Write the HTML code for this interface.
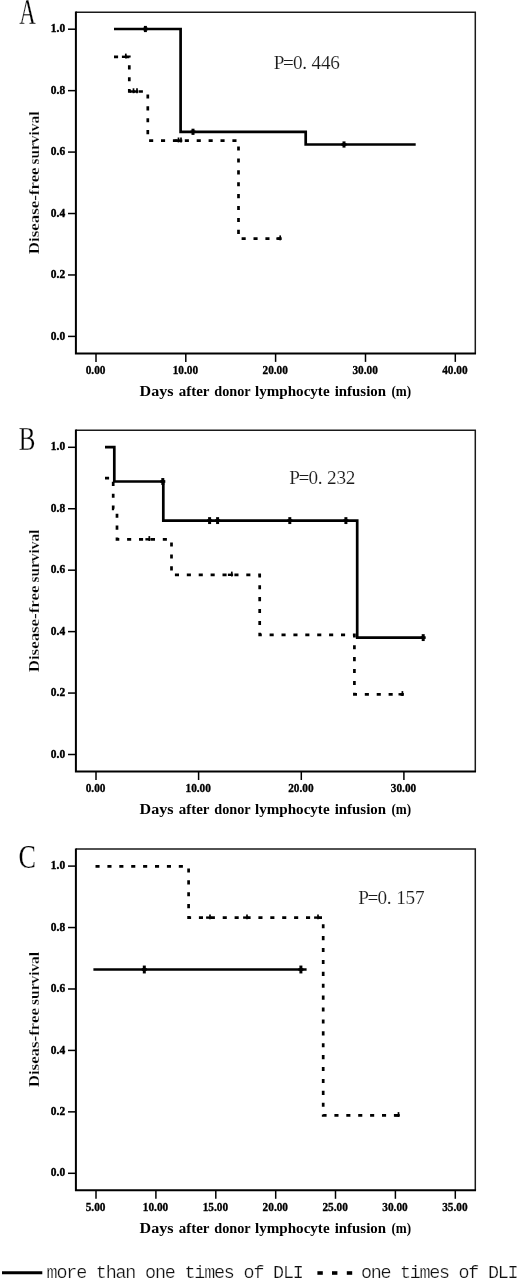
<!DOCTYPE html>
<html lang="en"><head><meta charset="utf-8"><title>Disease-free survival after donor lymphocyte infusion</title>
<style>
html,body{margin:0;padding:0;background:#fff}
body{width:518px;height:1280px;overflow:hidden}
svg{display:block}
svg text{font-family:"Liberation Serif", "Noto Serif CJK SC", serif}
</style></head><body>
<svg width="518" height="1280" viewBox="0 0 518 1280">
<rect width="518" height="1280" fill="#fff"/>
<g>
<path d="M75.9,12.2 H475.3 V353.4" fill="none" stroke="#1a1a1a" stroke-width="1.5"/>
<path d="M75.9,11.5 V353.4 H476.05" fill="none" stroke="#000" stroke-width="2"/>
<line x1="68" x2="75.9" y1="336.4" y2="336.4" stroke="#000" stroke-width="1.5"/>
<text transform="translate(65.1 339.5) scale(1 1.07)" text-anchor="end" font-size="11.4" font-weight="bold" stroke="#000" stroke-width="0.4">0.0</text>
<line x1="68" x2="75.9" y1="274.96" y2="274.96" stroke="#000" stroke-width="1.5"/>
<text transform="translate(65.1 278.06) scale(1 1.07)" text-anchor="end" font-size="11.4" font-weight="bold" stroke="#000" stroke-width="0.4">0.2</text>
<line x1="68" x2="75.9" y1="213.52" y2="213.52" stroke="#000" stroke-width="1.5"/>
<text transform="translate(65.1 216.62) scale(1 1.07)" text-anchor="end" font-size="11.4" font-weight="bold" stroke="#000" stroke-width="0.4">0.4</text>
<line x1="68" x2="75.9" y1="152.08" y2="152.08" stroke="#000" stroke-width="1.5"/>
<text transform="translate(65.1 155.18) scale(1 1.07)" text-anchor="end" font-size="11.4" font-weight="bold" stroke="#000" stroke-width="0.4">0.6</text>
<line x1="68" x2="75.9" y1="90.64" y2="90.64" stroke="#000" stroke-width="1.5"/>
<text transform="translate(65.1 93.74) scale(1 1.07)" text-anchor="end" font-size="11.4" font-weight="bold" stroke="#000" stroke-width="0.4">0.8</text>
<line x1="68" x2="75.9" y1="29.2" y2="29.2" stroke="#000" stroke-width="1.5"/>
<text transform="translate(65.1 32.3) scale(1 1.07)" text-anchor="end" font-size="11.4" font-weight="bold" stroke="#000" stroke-width="0.4">1.0</text>
<line x1="96" x2="96" y1="353.4" y2="361.9" stroke="#000" stroke-width="1.5"/>
<text transform="translate(95.6 373.7) scale(1 1.09)" text-anchor="middle" font-size="11.3" font-weight="bold" stroke="#000" stroke-width="0.3">0.00</text>
<line x1="185.8" x2="185.8" y1="353.4" y2="361.9" stroke="#000" stroke-width="1.5"/>
<text transform="translate(185.4 373.7) scale(1 1.09)" text-anchor="middle" font-size="11.3" font-weight="bold" stroke="#000" stroke-width="0.3">10.00</text>
<line x1="275.6" x2="275.6" y1="353.4" y2="361.9" stroke="#000" stroke-width="1.5"/>
<text transform="translate(275.2 373.7) scale(1 1.09)" text-anchor="middle" font-size="11.3" font-weight="bold" stroke="#000" stroke-width="0.3">20.00</text>
<line x1="365.5" x2="365.5" y1="353.4" y2="361.9" stroke="#000" stroke-width="1.5"/>
<text transform="translate(365.1 373.7) scale(1 1.09)" text-anchor="middle" font-size="11.3" font-weight="bold" stroke="#000" stroke-width="0.3">30.00</text>
<line x1="455.3" x2="455.3" y1="353.4" y2="361.9" stroke="#000" stroke-width="1.5"/>
<text transform="translate(454.9 373.7) scale(1 1.09)" text-anchor="middle" font-size="11.3" font-weight="bold" stroke="#000" stroke-width="0.3">40.00</text>
<text y="395.7" font-size="15.2" font-weight="bold"><tspan x="139.5" textLength="34" lengthAdjust="spacingAndGlyphs">Days</tspan> <tspan x="178.7" textLength="30.5" lengthAdjust="spacingAndGlyphs">after</tspan> <tspan x="214.3" textLength="36.1" lengthAdjust="spacingAndGlyphs">donor</tspan> <tspan x="255" textLength="74.6" lengthAdjust="spacingAndGlyphs">lymphocyte</tspan> <tspan x="334.7" textLength="51.3" lengthAdjust="spacingAndGlyphs">infusion</tspan> <tspan x="391.4" textLength="19.7" lengthAdjust="spacingAndGlyphs">(m)</tspan></text>
<text transform="translate(39.4 253.8) rotate(-90)" font-size="15.4" font-weight="bold" stroke="#fff" stroke-width="0.2"><tspan x="-0.4" textLength="86.8" lengthAdjust="spacingAndGlyphs">Disease-free</tspan> <tspan x="89.3" textLength="53" lengthAdjust="spacingAndGlyphs">survival</tspan></text>
<path d="M114,29 H180.6 V131.8 H305.7 V144.5 H415.7" fill="none" stroke="#000" stroke-width="2.7" stroke-linejoin="miter"/>
<path d="M142.9,29 H147.9" fill="none" stroke="#000" stroke-width="2.6"/><path d="M145.4,25.9 V32.1" fill="none" stroke="#000" stroke-width="3"/>
<path d="M190.5,131.8 H195.5" fill="none" stroke="#000" stroke-width="2.6"/><path d="M193,128.7 V134.9" fill="none" stroke="#000" stroke-width="3"/>
<path d="M341.5,144.5 H346.5" fill="none" stroke="#000" stroke-width="2.6"/><path d="M344,141.4 V147.6" fill="none" stroke="#000" stroke-width="3"/>
<path d="M114,56.8 H129.3 V91.5 H147.8 V140.7 H238.5 V238.6 H282.4" fill="none" stroke="#000" stroke-width="2.7" stroke-dasharray="4.1 7.8"/>
<path d="M121.9,56.8 H127.1" fill="none" stroke="#000" stroke-width="2.4"/><path d="M125.8,53.6 V58.5" fill="none" stroke="#000" stroke-width="1.7"/>
<path d="M129.6,91.5 H134.8" fill="none" stroke="#000" stroke-width="2.4"/><path d="M133.5,88.3 V93.2" fill="none" stroke="#000" stroke-width="1.7"/>
<path d="M133.1,91.5 H138.3" fill="none" stroke="#000" stroke-width="2.4"/><path d="M137,88.3 V93.2" fill="none" stroke="#000" stroke-width="1.7"/>
<path d="M174.6,140.7 H179.8" fill="none" stroke="#000" stroke-width="2.4"/><path d="M178.5,137.5 V142.4" fill="none" stroke="#000" stroke-width="1.7"/>
<path d="M177.1,140.7 H182.3" fill="none" stroke="#000" stroke-width="2.4"/><path d="M181,137.5 V142.4" fill="none" stroke="#000" stroke-width="1.7"/>
<path d="M276.3,238.6 H281.5" fill="none" stroke="#000" stroke-width="2.4"/><path d="M280.2,235.4 V240.3" fill="none" stroke="#000" stroke-width="1.7"/>
<text x="278.98 288.34 297.7 304.66 316.42 325.78 335.14" y="69.4" font-size="19.2" text-anchor="middle" fill="#1c1c1c" stroke="#fff" stroke-width="0.12">P=0.446</text>
<text transform="translate(27.5 24) scale(0.64 1)" text-anchor="middle" font-size="35.8" fill="#000" stroke="#fff" stroke-width="0.25">A</text>
</g>
<g>
<path d="M75.9,430.3 H475.3 V771.5" fill="none" stroke="#1a1a1a" stroke-width="1.5"/>
<path d="M75.9,429.6 V771.5 H476.05" fill="none" stroke="#000" stroke-width="2"/>
<line x1="68" x2="75.9" y1="754.5" y2="754.5" stroke="#000" stroke-width="1.5"/>
<text transform="translate(65.1 757.6) scale(1 1.07)" text-anchor="end" font-size="11.4" font-weight="bold" stroke="#000" stroke-width="0.4">0.0</text>
<line x1="68" x2="75.9" y1="693.06" y2="693.06" stroke="#000" stroke-width="1.5"/>
<text transform="translate(65.1 696.16) scale(1 1.07)" text-anchor="end" font-size="11.4" font-weight="bold" stroke="#000" stroke-width="0.4">0.2</text>
<line x1="68" x2="75.9" y1="631.62" y2="631.62" stroke="#000" stroke-width="1.5"/>
<text transform="translate(65.1 634.72) scale(1 1.07)" text-anchor="end" font-size="11.4" font-weight="bold" stroke="#000" stroke-width="0.4">0.4</text>
<line x1="68" x2="75.9" y1="570.18" y2="570.18" stroke="#000" stroke-width="1.5"/>
<text transform="translate(65.1 573.28) scale(1 1.07)" text-anchor="end" font-size="11.4" font-weight="bold" stroke="#000" stroke-width="0.4">0.6</text>
<line x1="68" x2="75.9" y1="508.74" y2="508.74" stroke="#000" stroke-width="1.5"/>
<text transform="translate(65.1 511.84) scale(1 1.07)" text-anchor="end" font-size="11.4" font-weight="bold" stroke="#000" stroke-width="0.4">0.8</text>
<line x1="68" x2="75.9" y1="447.3" y2="447.3" stroke="#000" stroke-width="1.5"/>
<text transform="translate(65.1 450.4) scale(1 1.07)" text-anchor="end" font-size="11.4" font-weight="bold" stroke="#000" stroke-width="0.4">1.0</text>
<line x1="96" x2="96" y1="771.5" y2="780" stroke="#000" stroke-width="1.5"/>
<text transform="translate(95.6 791.8) scale(1 1.09)" text-anchor="middle" font-size="11.3" font-weight="bold" stroke="#000" stroke-width="0.3">0.00</text>
<line x1="198.6" x2="198.6" y1="771.5" y2="780" stroke="#000" stroke-width="1.5"/>
<text transform="translate(198.2 791.8) scale(1 1.09)" text-anchor="middle" font-size="11.3" font-weight="bold" stroke="#000" stroke-width="0.3">10.00</text>
<line x1="301.3" x2="301.3" y1="771.5" y2="780" stroke="#000" stroke-width="1.5"/>
<text transform="translate(300.9 791.8) scale(1 1.09)" text-anchor="middle" font-size="11.3" font-weight="bold" stroke="#000" stroke-width="0.3">20.00</text>
<line x1="403.9" x2="403.9" y1="771.5" y2="780" stroke="#000" stroke-width="1.5"/>
<text transform="translate(403.5 791.8) scale(1 1.09)" text-anchor="middle" font-size="11.3" font-weight="bold" stroke="#000" stroke-width="0.3">30.00</text>
<text y="813.8" font-size="15.2" font-weight="bold"><tspan x="139.5" textLength="34" lengthAdjust="spacingAndGlyphs">Days</tspan> <tspan x="178.7" textLength="30.5" lengthAdjust="spacingAndGlyphs">after</tspan> <tspan x="214.3" textLength="36.1" lengthAdjust="spacingAndGlyphs">donor</tspan> <tspan x="255" textLength="74.6" lengthAdjust="spacingAndGlyphs">lymphocyte</tspan> <tspan x="334.7" textLength="51.3" lengthAdjust="spacingAndGlyphs">infusion</tspan> <tspan x="391.4" textLength="19.7" lengthAdjust="spacingAndGlyphs">(m)</tspan></text>
<text transform="translate(39.4 671.9) rotate(-90)" font-size="15.4" font-weight="bold" stroke="#fff" stroke-width="0.2"><tspan x="-0.4" textLength="86.8" lengthAdjust="spacingAndGlyphs">Disease-free</tspan> <tspan x="89.3" textLength="53" lengthAdjust="spacingAndGlyphs">survival</tspan></text>
<path d="M105,447.2 H114.3 V481.5 H163.3 V520.6 H357.2 V637.6 H424.4" fill="none" stroke="#000" stroke-width="2.7" stroke-linejoin="miter"/>
<path d="M160.3,481.5 H165.3" fill="none" stroke="#000" stroke-width="2.6"/><path d="M162.8,478.05 V484.95" fill="none" stroke="#000" stroke-width="3"/>
<path d="M207.1,520.6 H212.1" fill="none" stroke="#000" stroke-width="2.6"/><path d="M209.6,517.15 V524.05" fill="none" stroke="#000" stroke-width="3"/>
<path d="M215.1,520.6 H220.1" fill="none" stroke="#000" stroke-width="2.6"/><path d="M217.6,517.15 V524.05" fill="none" stroke="#000" stroke-width="3"/>
<path d="M287.3,520.6 H292.3" fill="none" stroke="#000" stroke-width="2.6"/><path d="M289.8,517.15 V524.05" fill="none" stroke="#000" stroke-width="3"/>
<path d="M343.4,520.6 H348.4" fill="none" stroke="#000" stroke-width="2.6"/><path d="M345.9,517.15 V524.05" fill="none" stroke="#000" stroke-width="3"/>
<path d="M420.7,637.6 H425.7" fill="none" stroke="#000" stroke-width="2.6"/><path d="M423.2,634.15 V641.05" fill="none" stroke="#000" stroke-width="3"/>
<path d="M105,478.1 H113.2 V508.8 H117 V539.3 H171.5 V574.8 H259.7 V634.8 H354.4 V694.3 H403.6" fill="none" stroke="#000" stroke-width="2.7" stroke-dasharray="4.1 7.8"/>
<path d="M145.4,539.3 H150.6" fill="none" stroke="#000" stroke-width="2.4"/><path d="M149.3,536.1 V541" fill="none" stroke="#000" stroke-width="1.7"/>
<path d="M227.9,574.8 H233.1" fill="none" stroke="#000" stroke-width="2.4"/><path d="M231.8,571.6 V576.5" fill="none" stroke="#000" stroke-width="1.7"/>
<path d="M398.5,694.3 H403.7" fill="none" stroke="#000" stroke-width="2.4"/><path d="M402.4,691.1 V696" fill="none" stroke="#000" stroke-width="1.7"/>
<text x="294.48 303.84 313.2 320.16 331.92 341.28 350.64" y="483.5" font-size="19.2" text-anchor="middle" fill="#1c1c1c" stroke="#fff" stroke-width="0.12">P=0.232</text>
<text transform="translate(27 449.7) scale(0.73 1)" text-anchor="middle" font-size="34.2" fill="#000" stroke="#fff" stroke-width="0.25">B</text>
</g>
<g>
<path d="M75.9,849.1 H475.3 V1190.3" fill="none" stroke="#1a1a1a" stroke-width="1.5"/>
<path d="M75.9,848.4 V1190.3 H476.05" fill="none" stroke="#000" stroke-width="2"/>
<line x1="68" x2="75.9" y1="1173.3" y2="1173.3" stroke="#000" stroke-width="1.5"/>
<text transform="translate(65.1 1176.4) scale(1 1.07)" text-anchor="end" font-size="11.4" font-weight="bold" stroke="#000" stroke-width="0.4">0.0</text>
<line x1="68" x2="75.9" y1="1111.86" y2="1111.86" stroke="#000" stroke-width="1.5"/>
<text transform="translate(65.1 1114.96) scale(1 1.07)" text-anchor="end" font-size="11.4" font-weight="bold" stroke="#000" stroke-width="0.4">0.2</text>
<line x1="68" x2="75.9" y1="1050.42" y2="1050.42" stroke="#000" stroke-width="1.5"/>
<text transform="translate(65.1 1053.52) scale(1 1.07)" text-anchor="end" font-size="11.4" font-weight="bold" stroke="#000" stroke-width="0.4">0.4</text>
<line x1="68" x2="75.9" y1="988.98" y2="988.98" stroke="#000" stroke-width="1.5"/>
<text transform="translate(65.1 992.08) scale(1 1.07)" text-anchor="end" font-size="11.4" font-weight="bold" stroke="#000" stroke-width="0.4">0.6</text>
<line x1="68" x2="75.9" y1="927.54" y2="927.54" stroke="#000" stroke-width="1.5"/>
<text transform="translate(65.1 930.64) scale(1 1.07)" text-anchor="end" font-size="11.4" font-weight="bold" stroke="#000" stroke-width="0.4">0.8</text>
<line x1="68" x2="75.9" y1="866.1" y2="866.1" stroke="#000" stroke-width="1.5"/>
<text transform="translate(65.1 869.2) scale(1 1.07)" text-anchor="end" font-size="11.4" font-weight="bold" stroke="#000" stroke-width="0.4">1.0</text>
<line x1="96" x2="96" y1="1190.3" y2="1198.8" stroke="#000" stroke-width="1.5"/>
<text transform="translate(95.6 1210.6) scale(1 1.09)" text-anchor="middle" font-size="11.3" font-weight="bold" stroke="#000" stroke-width="0.3">5.00</text>
<line x1="155.9" x2="155.9" y1="1190.3" y2="1198.8" stroke="#000" stroke-width="1.5"/>
<text transform="translate(155.5 1210.6) scale(1 1.09)" text-anchor="middle" font-size="11.3" font-weight="bold" stroke="#000" stroke-width="0.3">10.00</text>
<line x1="215.8" x2="215.8" y1="1190.3" y2="1198.8" stroke="#000" stroke-width="1.5"/>
<text transform="translate(215.4 1210.6) scale(1 1.09)" text-anchor="middle" font-size="11.3" font-weight="bold" stroke="#000" stroke-width="0.3">15.00</text>
<line x1="275.7" x2="275.7" y1="1190.3" y2="1198.8" stroke="#000" stroke-width="1.5"/>
<text transform="translate(275.3 1210.6) scale(1 1.09)" text-anchor="middle" font-size="11.3" font-weight="bold" stroke="#000" stroke-width="0.3">20.00</text>
<line x1="335.5" x2="335.5" y1="1190.3" y2="1198.8" stroke="#000" stroke-width="1.5"/>
<text transform="translate(335.1 1210.6) scale(1 1.09)" text-anchor="middle" font-size="11.3" font-weight="bold" stroke="#000" stroke-width="0.3">25.00</text>
<line x1="395.4" x2="395.4" y1="1190.3" y2="1198.8" stroke="#000" stroke-width="1.5"/>
<text transform="translate(395 1210.6) scale(1 1.09)" text-anchor="middle" font-size="11.3" font-weight="bold" stroke="#000" stroke-width="0.3">30.00</text>
<line x1="455.3" x2="455.3" y1="1190.3" y2="1198.8" stroke="#000" stroke-width="1.5"/>
<text transform="translate(454.9 1210.6) scale(1 1.09)" text-anchor="middle" font-size="11.3" font-weight="bold" stroke="#000" stroke-width="0.3">35.00</text>
<text y="1232.6" font-size="15.2" font-weight="bold"><tspan x="139.5" textLength="34" lengthAdjust="spacingAndGlyphs">Days</tspan> <tspan x="178.7" textLength="30.5" lengthAdjust="spacingAndGlyphs">after</tspan> <tspan x="214.3" textLength="36.1" lengthAdjust="spacingAndGlyphs">donor</tspan> <tspan x="255" textLength="74.6" lengthAdjust="spacingAndGlyphs">lymphocyte</tspan> <tspan x="334.7" textLength="51.3" lengthAdjust="spacingAndGlyphs">infusion</tspan> <tspan x="391.4" textLength="19.7" lengthAdjust="spacingAndGlyphs">(m)</tspan></text>
<text transform="translate(39.4 1086.9) rotate(-90)" font-size="15.4" font-weight="bold" stroke="#fff" stroke-width="0.2"><tspan x="-0.4" textLength="79.3" lengthAdjust="spacingAndGlyphs">Diseas-free</tspan> <tspan x="82" textLength="53" lengthAdjust="spacingAndGlyphs">survival</tspan></text>
<path d="M93.4,969.5 H306.6" fill="none" stroke="#000" stroke-width="2.7" stroke-linejoin="miter"/>
<path d="M141.8,969.5 H146.8" fill="none" stroke="#000" stroke-width="2.6"/><path d="M144.3,965.55 V973.45" fill="none" stroke="#000" stroke-width="3"/>
<path d="M298.4,969.5 H303.4" fill="none" stroke="#000" stroke-width="2.6"/><path d="M300.9,965.55 V973.45" fill="none" stroke="#000" stroke-width="3"/>
<path d="M95.5,866.3 H188.6 V917.6 H323.2 V1115.3 H400.6" fill="none" stroke="#000" stroke-width="2.7" stroke-dasharray="4.1 7.8"/>
<path d="M206.1,917.6 H211.3" fill="none" stroke="#000" stroke-width="2.4"/><path d="M210,914.4 V919.3" fill="none" stroke="#000" stroke-width="1.7"/>
<path d="M243.1,917.6 H248.3" fill="none" stroke="#000" stroke-width="2.4"/><path d="M247,914.4 V919.3" fill="none" stroke="#000" stroke-width="1.7"/>
<path d="M314.1,917.6 H319.3" fill="none" stroke="#000" stroke-width="2.4"/><path d="M318,914.4 V919.3" fill="none" stroke="#000" stroke-width="1.7"/>
<path d="M394.6,1115.3 H399.8" fill="none" stroke="#000" stroke-width="2.4"/><path d="M398.5,1112.1 V1117" fill="none" stroke="#000" stroke-width="1.7"/>
<text x="363.58 372.94 382.3 389.26 401.02 410.38 419.74" y="904.4" font-size="19.2" text-anchor="middle" fill="#1c1c1c" stroke="#fff" stroke-width="0.12">P=0.157</text>
<text transform="translate(27.1 868.3) scale(0.77 1)" text-anchor="middle" font-size="34" fill="#000" stroke="#fff" stroke-width="0.25">C</text>
</g>
<g>
<line x1="2" x2="42.3" y1="1272.7" y2="1272.7" stroke="#000" stroke-width="3"/>
<text transform="translate(46.6 1278.3) scale(1 0.95)" font-size="18.4" style="font-family:&quot;Liberation Mono&quot;,&quot;DejaVu Sans Mono&quot;,monospace" fill="#111" stroke="#fff" stroke-width="0.25" textLength="257.2" lengthAdjust="spacing">more than one times of DLI</text>
<rect x="317.4" y="1271.2" width="5.4" height="3.6" fill="#000"/>
<rect x="332" y="1271.2" width="5.4" height="3.6" fill="#000"/>
<rect x="346.8" y="1271.2" width="5.4" height="3.6" fill="#000"/>
<text transform="translate(360.9 1278.3) scale(1 0.95)" font-size="18.4" style="font-family:&quot;Liberation Mono&quot;,&quot;DejaVu Sans Mono&quot;,monospace" fill="#111" stroke="#fff" stroke-width="0.25" textLength="157.6" lengthAdjust="spacing">one times of DLI</text>
</g>
</svg>
</body></html>
